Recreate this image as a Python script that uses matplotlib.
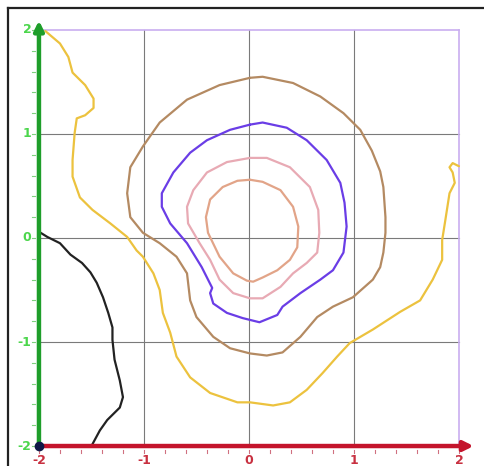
import matplotlib.pyplot as plt

# contour traces (data coords)
yellow_x = [-1.94, -1.80, -1.72, -1.68, -1.56, -1.48, -1.48, -1.56, -1.64, -1.66, -1.68, -1.68, -1.61, -1.49,
            -1.32, -1.16, -1.07, -1.01, -0.91, -0.85, -0.82, -0.75, -0.69, -0.56, -0.37, -0.11, 0.01, 0.23,
            0.39, 0.55, 0.70, 0.84, 0.96, 1.18, 1.44, 1.63, 1.75, 1.84, 1.84, 1.87, 1.91, 1.96, 1.94, 1.91,
            1.94, 2.00]
yellow_y = [1.99, 1.87, 1.74, 1.59, 1.47, 1.34, 1.25, 1.18, 1.15, 1.01, 0.75, 0.59, 0.39, 0.27,
            0.14, 0.01, -0.12, -0.18, -0.34, -0.50, -0.72, -0.91, -1.14, -1.34, -1.49, -1.58, -1.58, -1.61,
            -1.58, -1.46, -1.30, -1.14, -1.01, -0.88, -0.71, -0.60, -0.40, -0.21, -0.02, 0.17, 0.43, 0.53, 0.63, 0.68,
            0.72, 0.69]

brown_x = [0.01, 0.13, 0.42, 0.68, 0.90, 1.06, 1.17, 1.25, 1.28, 1.30, 1.30, 1.28, 1.25, 1.18, 0.99, 0.80, 0.65,
           0.49, 0.32, 0.17, 0.01, -0.18, -0.34, -0.50, -0.56, -0.59, -0.69, -0.85, -1.01, -1.13, -1.16, -1.13,
           -1.01, -0.85, -0.59, -0.28, 0.01]
brown_y = [1.54, 1.55, 1.49, 1.36, 1.20, 1.04, 0.84, 0.64, 0.49, 0.20, 0.05, -0.14, -0.28, -0.40, -0.57, -0.66,
           -0.76, -0.95, -1.10, -1.13, -1.11, -1.06, -0.95, -0.76, -0.60, -0.34, -0.18, -0.05, 0.05, 0.20, 0.43,
           0.68, 0.88, 1.11, 1.33, 1.47, 1.54]

blue_x = [0.01, 0.13, 0.36, 0.55, 0.74, 0.87, 0.91, 0.93, 0.90, 0.80, 0.68, 0.49, 0.32, 0.27, 0.10, -0.06,
          -0.21, -0.34, -0.37, -0.35, -0.45, -0.59, -0.75, -0.83, -0.83, -0.72, -0.56, -0.40, -0.18, 0.01]
blue_y = [1.09, 1.11, 1.06, 0.94, 0.75, 0.53, 0.34, 0.11, -0.14, -0.31, -0.40, -0.53, -0.66, -0.74, -0.81, -0.77,
          -0.72, -0.63, -0.53, -0.48, -0.28, -0.05, 0.14, 0.30, 0.43, 0.63, 0.82, 0.94, 1.04, 1.09]

pink_x = [0.01, 0.17, 0.39, 0.58, 0.66, 0.67, 0.65, 0.55, 0.42, 0.30, 0.13, 0.01, -0.15, -0.28, -0.37, -0.47,
          -0.58, -0.59, -0.53, -0.40, -0.21, 0.01]
pink_y = [0.77, 0.77, 0.68, 0.49, 0.27, 0.05, -0.14, -0.24, -0.34, -0.47, -0.58, -0.58, -0.53, -0.40, -0.21, -0.05,
          0.14, 0.30, 0.46, 0.63, 0.73, 0.77]

salmon_x = [0.01, 0.13, 0.30, 0.42, 0.47, 0.46, 0.39, 0.27, 0.13, 0.04, -0.02, -0.15, -0.28, -0.39, -0.41, -0.37,
            -0.25, -0.11, 0.01]
salmon_y = [0.56, 0.54, 0.46, 0.30, 0.11, -0.09, -0.21, -0.31, -0.38, -0.42, -0.41, -0.34, -0.18, 0.05, 0.20, 0.37,
            0.49, 0.55, 0.56]

black_x = [-2.00, -1.92, -1.80, -1.70, -1.59, -1.51, -1.45, -1.39, -1.34, -1.30, -1.30, -1.28, -1.23, -1.20,
           -1.23, -1.35, -1.42, -1.50]
black_y = [0.06, 0.01, -0.05, -0.16, -0.24, -0.33, -0.43, -0.57, -0.72, -0.86, -0.98, -1.17, -1.37, -1.53,
           -1.63, -1.75, -1.85, -2.00]

ticks = [-2, -1, 0, 1, 2]
grid_vals = [-1, 0, 1]

fig = plt.figure(figsize=(4.85, 4.66), dpi=100)
ax = fig.add_axes([0, 0, 1, 1])
ax.set_xlim(-2.371, 2.248)
ax.set_ylim(-2.192, 2.288)
ax.axis('off')

# grid
for g in grid_vals:
    ax.plot([g, g], [-2, 2], color='#7a7a7a', lw=0.8, zorder=1)
    ax.plot([-2, 2], [g, g], color='#7a7a7a', lw=0.8, zorder=1)
ax.plot([2, 2], [-2, 2], color='#c9aef0', lw=1.2, zorder=1)
ax.plot([-2, 2], [2, 2], color='#c9aef0', lw=1.2, zorder=1)

# curves
style = dict(lw=1.6, zorder=3, solid_joinstyle='round', solid_capstyle='round')
ax.plot(yellow_x, yellow_y, color='#ecc23e', **style)
ax.plot(brown_x, brown_y, color='#b48a62', **style)
ax.plot(blue_x, blue_y, color='#6a3de6', **style)
ax.plot(pink_x, pink_y, color='#e8aab4', **style)
ax.plot(salmon_x, salmon_y, color='#e2a488', **style)
ax.plot(black_x, black_y, color='#222222', **style)

# minor ticks on the axes
for i in range(21):
    v = -2 + i * 0.2
    ax.plot([-2.07, -2.035], [v, v], color='#7fd07f', lw=0.8, zorder=2)
    ax.plot([v, v], [-2.035, -2.07], color='#d07080', lw=0.8, zorder=2)

# main axes with arrows
ax.annotate('', xy=(-2, 2.09), xytext=(-2, -2),
            arrowprops=dict(arrowstyle='-|>', lw=3.2, color='#1e9e2a', mutation_scale=14,
                            shrinkA=0, shrinkB=0), zorder=5)
ax.annotate('', xy=(2.14, -2), xytext=(-2, -2),
            arrowprops=dict(arrowstyle='-|>', lw=3.2, color='#c4142c', mutation_scale=14,
                            shrinkA=0, shrinkB=0), zorder=5)
ax.plot([-2], [-2], 'o', color='#101848', ms=6, zorder=6)

for t in ticks:
    ax.text(-2.07, t, str(t), color='#4cd64c', fontsize=9, fontweight='bold',
            ha='right', va='center')
    ax.text(t, -2.08, str(t), color='#c83040', fontsize=9, fontweight='bold',
            ha='center', va='top')

# window frame at top and left
fig.add_artist(plt.Line2D([8 / 485, 1], [1 - 8 / 466, 1 - 8 / 466], color='#222222', lw=1.6))
fig.add_artist(plt.Line2D([8 / 485, 8 / 485], [0, 1 - 8 / 466], color='#222222', lw=1.6))

fig.savefig('out.png', dpi=100)
